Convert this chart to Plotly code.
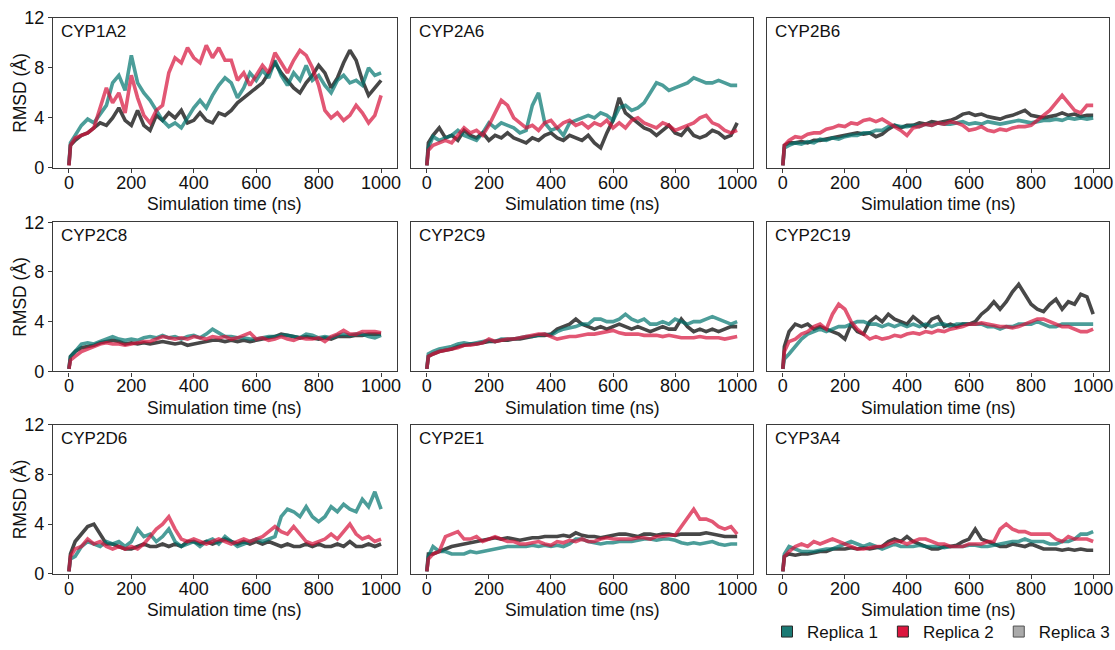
import plotly.graph_objects as go

# ---------------- data (RMSD in Å) ----------------
TIME = [0, 5] + list(range(20, 1001, 20))

PROTEINS = ["CYP1A2", "CYP2A6", "CYP2B6",
            "CYP2C8", "CYP2C9", "CYP2C19",
            "CYP2D6", "CYP2E1", "CYP3A4"]
REPLICAS = ["Replica 1", "Replica 2", "Replica 3"]
X_TICKS = [0, 200, 400, 600, 800, 1000]
Y_TICKS = [0, 4, 8, 12]
X_TITLE = "Simulation time (ns)"
Y_TITLE = "RMSD (Å)"

CYP1A2_R1 = [0.3, 2.0,
             2.6, 3.4, 3.9, 3.6, 4.3, 5.0, 6.8, 7.4, 6.2, 9.0,
             6.8, 6.0, 5.4, 4.6, 3.8, 3.3, 3.6, 3.2, 4.0, 4.8,
             5.4, 4.8, 5.8, 6.6, 7.2, 6.8, 5.6, 6.4, 7.6, 7.0,
             7.8, 7.2, 8.6, 7.4, 6.6, 7.6, 7.0, 8.2, 7.0, 7.4,
             6.6, 6.0, 7.0, 7.4, 6.8, 7.0, 6.6, 8.0, 7.4, 7.6]
CYP1A2_R2 = [0.2, 1.8,
             2.4, 2.6, 2.8, 3.2, 4.8, 6.4, 5.2, 6.0, 4.4, 7.4,
             5.6, 4.2, 3.6, 4.6, 5.0, 7.6, 8.8, 8.4, 9.6, 8.8,
             8.4, 9.8, 8.8, 9.6, 8.6, 8.6, 7.0, 7.6, 6.6, 7.4,
             8.2, 7.6, 9.2, 8.4, 7.6, 8.6, 9.4, 9.0, 8.0, 6.6,
             4.6, 4.0, 4.4, 3.8, 4.2, 5.0, 4.4, 3.6, 4.2, 5.8]
CYP1A2_R3 = [0.2, 1.8,
             2.2, 2.6, 2.8, 3.2, 3.6, 3.4, 4.0, 4.8, 3.8, 3.4,
             4.6, 3.4, 3.0, 4.2, 3.8, 4.4, 4.0, 4.6, 3.6, 3.8,
             4.4, 3.8, 3.6, 4.4, 4.2, 4.6, 5.2, 5.6, 6.0, 6.4,
             6.8, 7.6, 8.4, 7.6, 7.0, 6.4, 6.0, 6.8, 7.4, 8.2,
             7.6, 6.4, 7.2, 8.4, 9.4, 8.6, 7.0, 5.8, 6.4, 7.0]

CYP2A6_R1 = [0.2, 1.6,
             2.5, 2.2, 2.4, 2.6, 3.0, 2.6, 2.4, 2.2, 2.8, 3.6,
             3.2, 3.6, 3.4, 3.2, 2.8, 3.0, 5.0, 6.0, 3.6, 3.0,
             3.2, 2.6, 3.6, 3.8, 4.0, 4.2, 4.0, 4.4, 4.2, 3.8,
             4.8, 5.0, 4.6, 4.8, 5.2, 6.0, 6.8, 6.6, 6.2, 6.4,
             6.6, 6.8, 7.2, 7.0, 6.8, 6.8, 7.0, 6.8, 6.6, 6.6]
CYP2A6_R2 = [0.2, 1.4,
             1.8, 2.0, 2.2, 2.0, 2.6, 3.2, 2.8, 3.0, 2.6, 3.4,
             4.4, 5.4, 5.0, 4.0, 3.6, 3.2, 3.4, 3.0, 3.6, 3.8,
             3.2, 3.6, 3.8, 3.4, 3.6, 3.2, 3.6, 3.4, 3.8, 3.2,
             3.6, 3.2, 3.8, 4.0, 3.6, 3.4, 3.2, 3.6, 3.4, 3.0,
             3.2, 3.4, 3.6, 4.0, 4.2, 3.6, 3.4, 3.0, 2.8, 3.0]
CYP2A6_R3 = [0.2, 2.0,
             2.6, 3.2, 2.4, 2.6, 2.2, 3.0, 2.6, 2.4, 2.8, 2.2,
             2.6, 2.4, 2.8, 2.4, 2.2, 2.0, 2.4, 2.2, 2.6, 2.8,
             2.4, 2.2, 2.6, 2.4, 2.2, 2.6, 2.0, 1.6, 2.8, 3.8,
             5.6, 4.4, 4.0, 3.6, 3.2, 3.0, 2.6, 3.0, 3.4, 2.8,
             2.6, 3.2, 2.6, 2.4, 2.6, 3.0, 2.8, 2.4, 2.6, 3.6]

CYP2B6_R1 = [0.2, 1.6,
             1.8, 2.0, 1.9, 2.1, 2.0, 2.3, 2.2, 2.4, 2.3, 2.5,
             2.6, 2.6, 2.8, 2.8, 3.0, 3.0, 3.3, 3.4, 3.3, 3.3,
             3.4, 3.3, 3.5, 3.4, 3.6, 3.5, 3.5, 3.6, 3.7, 3.5,
             3.6, 3.5, 3.7, 3.6, 3.5, 3.6, 3.7, 3.8, 3.7, 3.6,
             3.7, 3.8, 3.8, 3.9, 3.8, 4.0, 3.9, 4.0, 3.9, 4.0]
CYP2B6_R2 = [0.2, 1.8,
             2.2, 2.5, 2.4, 2.7, 2.8, 2.8, 3.1, 3.2, 3.4, 3.3,
             3.6, 3.5, 3.8, 3.9, 3.7, 3.9, 3.6, 3.3, 3.0, 2.6,
             3.2, 3.3, 3.5, 3.4, 3.6, 3.5, 3.7, 3.6, 3.4, 3.0,
             3.1, 3.3, 3.0, 2.9, 3.1, 3.0, 3.2, 3.3, 3.3, 3.4,
             3.8, 4.2, 4.6, 5.2, 5.8, 5.2, 4.6, 4.4, 5.0, 5.0]
CYP2B6_R3 = [0.2, 1.8,
             2.0, 2.0, 2.1, 2.0, 2.2, 2.2, 2.3, 2.4, 2.5, 2.6,
             2.7, 2.8, 2.7, 2.8, 2.5, 2.7, 3.1, 3.4, 3.2, 3.4,
             3.4, 3.6, 3.5, 3.7, 3.6, 3.7, 3.8, 4.0, 4.3, 4.4,
             4.2, 4.3, 4.1, 4.0, 3.9, 4.1, 4.2, 4.4, 4.6, 4.2,
             4.1, 4.0, 4.1, 4.2, 4.4, 4.2, 4.3, 4.1, 4.2, 4.2]

CYP2C8_R1 = [0.2, 1.2,
             1.6, 2.2, 2.3, 2.2, 2.4, 2.6, 2.8, 2.6, 2.5, 2.6,
             2.5, 2.7, 2.8, 2.7, 2.9, 2.7, 2.8, 2.6, 2.8, 2.9,
             2.7, 3.0, 3.4, 3.1, 2.8, 2.8, 2.7, 2.7, 2.6, 2.6,
             2.7, 2.8, 2.8, 2.9, 2.9, 2.8, 2.7, 3.0, 2.9, 2.7,
             2.8, 2.7, 2.9, 3.0, 2.9, 3.0, 3.0, 2.8, 2.7, 2.9]
CYP2C8_R2 = [0.2, 0.9,
             1.2, 1.6, 1.8, 2.0, 2.2, 2.3, 2.2, 2.2, 2.1, 2.2,
             2.3, 2.4, 2.4, 2.6, 2.8, 2.7, 2.6, 2.7, 2.6, 2.8,
             2.7, 2.6, 2.8, 2.7, 2.8, 2.6, 2.7, 2.9, 3.1, 2.6,
             2.7, 2.5, 2.6, 2.8, 2.6, 2.5, 2.7, 2.6, 2.6, 2.7,
             2.4, 2.8, 3.0, 3.3, 3.0, 3.0, 3.2, 3.2, 3.2, 3.1]
CYP2C8_R3 = [0.2, 1.2,
             1.6, 1.9, 2.0, 2.1, 2.3, 2.4, 2.5, 2.4, 2.2, 2.3,
             2.2, 2.3, 2.2, 2.3, 2.4, 2.3, 2.2, 2.3, 2.1, 2.2,
             2.3, 2.4, 2.5, 2.5, 2.4, 2.5, 2.4, 2.5, 2.4, 2.5,
             2.6, 2.7, 2.8, 3.0, 2.9, 2.8, 2.7, 2.8, 2.7, 2.6,
             2.7, 2.6, 2.8, 2.8, 2.8, 2.9, 2.9, 3.0, 3.0, 3.0]

CYP2C9_R1 = [0.2, 1.4,
             1.6, 1.8, 1.9, 2.0, 2.2, 2.3, 2.2, 2.3, 2.4, 2.5,
             2.4, 2.6, 2.6, 2.6, 2.7, 2.8, 2.8, 2.9, 3.0, 2.9,
             3.2, 3.4, 3.5, 3.6, 3.8, 3.8, 4.2, 4.2, 4.0, 4.0,
             4.2, 4.6, 4.2, 4.0, 4.2, 3.8, 3.8, 4.0, 3.8, 4.2,
             4.0, 3.8, 4.0, 4.0, 4.2, 4.4, 4.2, 4.0, 3.8, 4.0]
CYP2C9_R2 = [0.2, 1.2,
             1.4, 1.6, 1.7, 1.8, 1.9, 2.1, 2.1, 2.2, 2.3, 2.6,
             2.4, 2.5, 2.6, 2.6, 2.7, 2.8, 2.9, 3.0, 3.0, 2.8,
             2.6, 2.7, 2.8, 2.8, 2.9, 3.0, 3.0, 3.1, 3.2, 3.3,
             3.1, 3.0, 3.0, 3.0, 2.9, 2.9, 2.9, 2.8, 2.9, 2.8,
             2.7, 2.7, 2.7, 2.8, 2.7, 2.7, 2.7, 2.6, 2.7, 2.8]
CYP2C9_R3 = [0.2, 1.2,
             1.4, 1.6, 1.7, 1.8, 2.0, 2.1, 2.2, 2.2, 2.3, 2.4,
             2.4, 2.5, 2.5, 2.6, 2.6, 2.7, 2.8, 2.9, 2.9, 3.0,
             3.4, 3.6, 3.8, 4.2, 3.8, 3.6, 3.4, 3.6, 3.4, 3.6,
             3.8, 3.6, 3.4, 3.6, 3.4, 3.2, 3.4, 3.6, 3.4, 3.4,
             4.2, 3.6, 3.2, 3.4, 3.2, 3.4, 3.2, 3.4, 3.6, 3.6]

CYP2C19_R1 = [0.2, 1.0,
              1.4, 2.0, 2.6, 3.0, 3.2, 3.4, 3.2, 3.4, 3.6, 3.6,
              3.8, 4.0, 4.0, 3.8, 3.8, 3.6, 3.8, 3.6, 3.8, 3.6,
              3.8, 3.6, 3.8, 3.6, 3.8, 3.8, 3.6, 3.8, 3.8, 3.8,
              3.8, 3.8, 3.6, 3.6, 3.4, 3.6, 3.6, 3.8, 3.8, 3.8,
              4.0, 3.8, 3.6, 3.6, 3.8, 3.8, 3.8, 3.8, 3.8, 3.8]
CYP2C19_R2 = [0.2, 1.6,
              2.4, 2.6, 3.0, 3.2, 3.6, 3.8, 3.4, 4.6, 5.4, 5.0,
              4.0, 3.4, 3.0, 2.6, 2.8, 2.6, 2.7, 2.9, 2.8, 3.0,
              3.1, 3.0, 3.2, 3.1, 3.3, 3.2, 3.4, 3.5, 3.6, 3.8,
              3.8, 3.9, 3.8, 3.7, 3.6, 3.6, 3.5, 3.6, 3.8, 4.0,
              4.2, 4.2, 4.0, 3.8, 3.6, 3.6, 3.4, 3.2, 3.2, 3.4]
CYP2C19_R3 = [0.2, 2.0,
              3.2, 3.8, 3.6, 3.8, 3.4, 3.6, 3.4, 3.2, 3.0, 2.6,
              3.8, 3.2, 3.0, 4.0, 4.4, 4.0, 4.6, 4.2, 4.0, 3.8,
              4.4, 4.0, 3.6, 4.2, 4.4, 3.6, 3.8, 3.6, 3.8, 3.8,
              4.0, 4.6, 5.0, 5.6, 5.0, 5.6, 6.4, 7.0, 6.2, 5.4,
              5.0, 4.8, 5.4, 5.8, 5.0, 5.6, 5.4, 6.2, 6.0, 4.6]

CYP2D6_R1 = [0.2, 1.2,
             1.4, 2.2, 2.6, 2.4, 2.2, 2.6, 2.4, 2.6, 2.2, 2.6,
             3.6, 3.0, 3.2, 2.6, 3.0, 3.6, 2.6, 2.2, 2.4, 2.6,
             2.2, 2.6, 2.8, 2.4, 3.0, 2.6, 2.2, 2.4, 2.6, 2.8,
             2.6, 2.8, 3.0, 4.6, 5.2, 5.0, 4.6, 5.4, 4.6, 4.2,
             4.6, 5.4, 5.0, 5.6, 5.2, 5.0, 6.0, 5.4, 6.6, 5.2]
CYP2D6_R2 = [0.2, 1.4,
             2.0, 2.2, 2.8, 2.4, 2.6, 2.2, 2.0, 2.2, 2.0, 2.2,
             2.0, 2.4, 3.0, 3.6, 4.0, 4.6, 3.6, 2.8, 2.6, 2.8,
             2.6, 2.4, 2.6, 2.8, 2.6, 2.4, 2.6, 2.8, 2.6, 2.8,
             3.0, 3.4, 3.8, 3.4, 3.2, 3.8, 3.2, 2.6, 2.4, 2.6,
             2.8, 3.2, 2.8, 3.4, 4.0, 3.2, 2.8, 3.0, 2.6, 2.8]
CYP2D6_R3 = [0.2, 1.6,
             2.6, 3.2, 3.8, 4.0, 3.2, 2.4, 2.4, 2.2, 2.0, 2.0,
             2.2, 2.4, 2.2, 2.2, 2.4, 2.2, 2.4, 2.2, 2.6, 2.6,
             2.4, 2.6, 2.4, 2.6, 2.8, 2.6, 2.4, 2.6, 2.4, 2.6,
             2.4, 2.6, 2.4, 2.2, 2.4, 2.2, 2.2, 2.4, 2.2, 2.4,
             2.2, 2.2, 2.4, 2.2, 2.6, 2.2, 2.2, 2.4, 2.2, 2.4]

CYP2E1_R1 = [0.2, 1.4,
             2.2, 1.8, 1.8, 1.6, 1.6, 1.6, 1.8, 1.7, 1.8, 1.9,
             2.0, 2.1, 2.2, 2.2, 2.2, 2.2, 2.3, 2.2, 2.3, 2.2,
             2.3, 2.2, 2.4, 2.8, 2.8, 2.6, 2.5, 2.4, 2.5, 2.5,
             2.6, 2.6, 2.6, 2.7, 2.8, 2.8, 2.7, 2.8, 2.8, 2.7,
             2.5, 2.4, 2.5, 2.4, 2.5, 2.6, 2.4, 2.3, 2.4, 2.4]
CYP2E1_R2 = [0.2, 1.2,
             1.6, 1.8, 3.0, 3.2, 3.4, 2.8, 2.8, 3.0, 2.6, 2.8,
             3.0, 2.8, 2.6, 2.6, 2.4, 2.4, 2.5, 2.6, 2.4, 2.3,
             2.6, 2.5, 2.7, 2.6, 2.8, 2.6, 2.6, 2.8, 2.9, 2.8,
             2.8, 2.8, 2.8, 2.9, 2.9, 2.8, 3.0, 3.0, 3.1, 3.1,
             3.8, 4.4, 5.2, 4.4, 4.4, 4.2, 3.8, 3.6, 3.8, 3.2]
CYP2E1_R3 = [0.2, 1.6,
             1.6, 1.8, 2.0, 2.2, 2.3, 2.4, 2.5, 2.6, 2.7, 2.8,
             2.9, 2.8, 2.9, 2.8, 2.7, 2.8, 2.9, 2.9, 3.0, 3.0,
             3.0, 3.1, 3.0, 3.3, 3.1, 3.0, 3.0, 2.9, 3.0, 3.1,
             3.2, 3.2, 3.1, 3.0, 3.2, 3.2, 3.1, 3.2, 3.2, 3.1,
             3.2, 3.2, 3.2, 3.2, 3.3, 3.2, 3.1, 3.0, 3.0, 3.0]

CYP3A4_R1 = [0.2, 1.6,
             2.2, 2.0, 1.8, 1.8, 1.8, 1.9, 2.0, 2.0, 2.2, 2.4,
             2.6, 2.4, 2.2, 2.4, 2.2, 2.0, 2.2, 2.4, 2.2, 2.2,
             2.2, 2.3, 2.2, 2.2, 2.2, 2.1, 2.2, 2.2, 2.2, 2.3,
             2.3, 2.2, 2.2, 2.3, 2.4, 2.5, 2.6, 2.6, 2.8, 2.6,
             2.6, 2.6, 2.4, 2.4, 2.6, 2.6, 2.8, 3.2, 3.2, 3.4]
CYP3A4_R2 = [0.2, 1.4,
             1.8, 2.2, 2.4, 2.2, 2.6, 2.4, 2.6, 2.8, 2.6, 2.4,
             2.2, 2.0, 2.0, 2.1, 2.2, 2.2, 2.4, 2.6, 2.6, 2.4,
             2.6, 2.8, 2.8, 2.6, 2.4, 2.4, 2.2, 2.2, 2.2, 2.4,
             2.4, 2.4, 2.6, 2.6, 3.6, 4.0, 3.6, 3.4, 3.4, 3.2,
             3.2, 3.2, 3.2, 2.8, 2.6, 3.0, 2.8, 2.8, 2.8, 2.6]
CYP3A4_R3 = [0.2, 1.4,
             1.6, 1.5, 1.6, 1.6, 1.7, 1.8, 1.8, 2.0, 2.0, 2.0,
             2.1, 2.0, 2.1, 2.0, 2.1, 2.2, 2.6, 2.8, 2.6, 3.0,
             2.6, 2.4, 2.2, 2.0, 2.0, 2.2, 2.2, 2.3, 2.6, 2.8,
             3.6, 2.8, 2.6, 2.4, 2.2, 2.2, 2.4, 2.3, 2.2, 2.4,
             2.2, 2.0, 2.0, 2.0, 1.9, 2.0, 1.9, 2.0, 1.9, 1.9]

RMSD = {
    "CYP1A2": [CYP1A2_R1, CYP1A2_R2, CYP1A2_R3],
    "CYP2A6": [CYP2A6_R1, CYP2A6_R2, CYP2A6_R3],
    "CYP2B6": [CYP2B6_R1, CYP2B6_R2, CYP2B6_R3],
    "CYP2C8": [CYP2C8_R1, CYP2C8_R2, CYP2C8_R3],
    "CYP2C9": [CYP2C9_R1, CYP2C9_R2, CYP2C9_R3],
    "CYP2C19": [CYP2C19_R1, CYP2C19_R2, CYP2C19_R3],
    "CYP2D6": [CYP2D6_R1, CYP2D6_R2, CYP2D6_R3],
    "CYP2E1": [CYP2E1_R1, CYP2E1_R2, CYP2E1_R3],
    "CYP3A4": [CYP3A4_R1, CYP3A4_R2, CYP3A4_R3],
}

# ---------------- styling ----------------
LINE_COLORS = ["rgb(0,116,110)", "rgb(214,16,58)", "rgb(58,58,58)"]
LINE_OPACITY = [0.7, 0.7, 0.92]
LEGEND_FILL = ["rgb(27,122,116)", "rgb(220,22,62)", "rgb(170,170,170)"]
LEGEND_EDGE = ["rgb(40,40,40)", "rgb(40,40,40)", "rgb(80,80,80)"]
DRAW_ORDER = [2, 0, 1]  # gray underneath, then teal, then crimson

FONT = "Liberation Sans, Arial, Helvetica, sans-serif"
AX_COLOR = "#3a3a3a"
TICK_SIZE = 18
TITLE_SIZE = 17.5

W, H = 1115, 650
COL_PX = [(53, 397), (411, 753), (767, 1109)]
ROW_PX = [(18, 170), (225, 376), (430, 581)]

fig = go.Figure()
layout = {}
annotations = []

for k, prot in enumerate(PROTEINS):
    r, c = divmod(k, 3)
    idx = k + 1
    xs = "" if idx == 1 else str(idx)
    for ri in DRAW_ORDER:
        fig.add_trace(go.Scatter(
            x=TIME, y=RMSD[prot][ri], mode="lines",
            line=dict(color=LINE_COLORS[ri], width=3.6),
            opacity=LINE_OPACITY[ri], name=REPLICAS[ri],
            showlegend=False, hoverinfo="skip",
            xaxis="x" + xs, yaxis="y" + xs))
    x0, x1 = COL_PX[c]
    y0, y1 = ROW_PX[r]
    ph = y1 - y0
    layout["xaxis" + xs] = dict(
        domain=[x0 / W, x1 / W], anchor="y" + xs,
        range=[-51, 1051], tickvals=X_TICKS, ticks="outside",
        ticklen=4, tickwidth=1.2, tickcolor=AX_COLOR,
        ticklabelstandoff=-6,
        showline=True, linecolor=AX_COLOR, linewidth=1.3, mirror=True,
        showgrid=False, zeroline=False,
        tickfont=dict(size=TICK_SIZE, color="#111", family=FONT),
        automargin=False)
    left = c == 0
    layout["yaxis" + xs] = dict(
        domain=[1 - y1 / H, 1 - y0 / H], anchor="x" + xs,
        range=[0, 12], tickvals=Y_TICKS,
        ticks="outside" if left else "", showticklabels=left,
        ticklen=4, tickwidth=1.2, tickcolor=AX_COLOR,
        showline=True, linecolor=AX_COLOR, linewidth=1.3, mirror=True,
        showgrid=False, zeroline=False,
        tickfont=dict(size=TICK_SIZE, color="#111", family=FONT),
        automargin=False)
    # panel label
    annotations.append(dict(
        text=prot, xref="x" + xs + " domain", yref="y" + xs + " domain",
        x=0.018, y=0.985, xanchor="left", yanchor="top", showarrow=False,
        font=dict(size=17, color="#111", family=FONT)))
    # x-axis title
    annotations.append(dict(
        text=X_TITLE, xref="x" + xs + " domain", yref="y" + xs + " domain",
        x=0.5, y=-37.0 / ph, xanchor="center", yanchor="middle",
        showarrow=False,
        font=dict(size=TITLE_SIZE, color="#111", family=FONT)))
    # y-axis title (left column only)
    if left:
        annotations.append(dict(
            text=Y_TITLE, xref="paper", yref="y" + xs + " domain",
            x=20.0 / W, y=0.5, xanchor="center", yanchor="middle",
            textangle=-90, showarrow=False,
            font=dict(size=TITLE_SIZE, color="#111", family=FONT)))

# legend entries (square swatches)
for ri in range(3):
    fig.add_trace(go.Scatter(
        x=[None], y=[None], mode="markers", name=REPLICAS[ri],
        marker=dict(symbol="square", size=11, color=LEGEND_FILL[ri],
                    line=dict(color=LEGEND_EDGE[ri], width=1)),
        xaxis="x9", yaxis="y9", showlegend=True))

fig.update_layout(
    **layout,
    annotations=annotations,
    width=W, height=H,
    margin=dict(l=0, r=0, t=0, b=0),
    paper_bgcolor="white", plot_bgcolor="white",
    font=dict(family=FONT, size=TICK_SIZE, color="#111"),
    showlegend=True,
    legend=dict(orientation="h", x=1.0, xanchor="right", y=1 - 640.0 / H,
                yanchor="middle", itemwidth=30, bgcolor="rgba(0,0,0,0)",
                font=dict(size=17, color="#111", family=FONT),
                tracegroupgap=0),
)

fig.write_html("out.html")
